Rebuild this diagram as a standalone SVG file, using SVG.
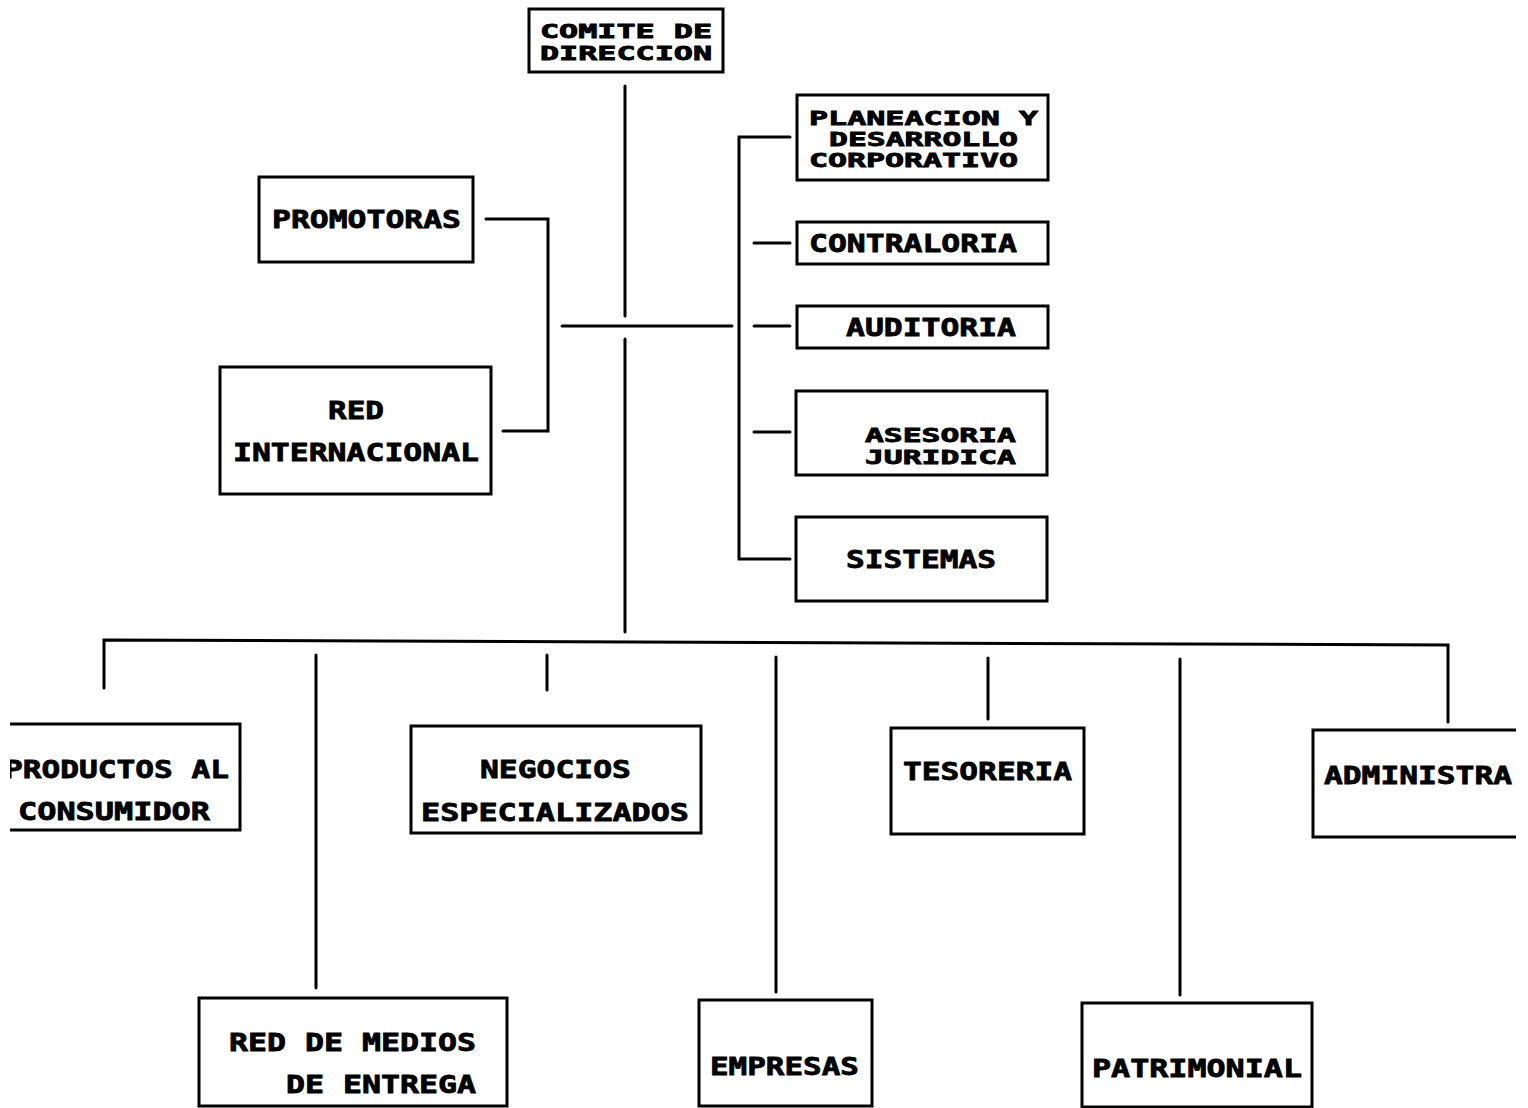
<svg xmlns="http://www.w3.org/2000/svg" width="1528" height="1108" viewBox="0 0 1528 1108">
  <style>
    .box { fill: #fff; stroke: #000; stroke-width: 3; }
    .open { fill: none; stroke: #000; stroke-width: 3; }
    .wire { fill: none; stroke: #000; stroke-width: 3; stroke-linecap: round; stroke-linejoin: miter; }
    .lbl { font-family: "DejaVu Sans Mono", "Liberation Mono", monospace; font-weight: bold; font-size: 25px; fill: #000; stroke: #000; stroke-width: 0.8; }
    .tight { font-size: 19px; }
  </style>
  <defs>
    <clipPath id="page">
      <rect x="10" y="0" width="1506" height="1108"/>
    </clipPath>
  </defs>
  <rect width="1528" height="1108" fill="#fff"/>

  <!-- connectors -->
  <g id="connectors">
    <!-- main trunk -->
    <path class="wire" d="M625 86 V316 M625 339 V632"/>
    <path class="wire" d="M562 326 H732"/>
    <!-- left staff branch -->
    <path class="wire" d="M486 219 H548 V431 H503"/>
    <!-- right staff branch -->
    <path class="wire" d="M790 137 H739 V559 H790"/>
    <path class="wire" d="M754 243 H790"/>
    <path class="wire" d="M754 326 H790"/>
    <path class="wire" d="M754 432 H790"/>
    <!-- line bus -->
    <path class="wire" d="M104 688 V640 L1448 645 V722"/>
    <path class="wire" d="M316 655 V988"/>
    <path class="wire" d="M547 655 V690"/>
    <path class="wire" d="M776 657 V992"/>
    <path class="wire" d="M988 658 V719"/>
    <path class="wire" d="M1180 659 V995"/>
  </g>

  <!-- top -->
  <g id="comite">
    <rect class="box" x="529" y="9" width="194" height="63"/>
    <text class="lbl tight" x="540" y="38" textLength="172" lengthAdjust="spacingAndGlyphs">COMITE DE</text>
    <text class="lbl tight" x="540" y="60" textLength="172" lengthAdjust="spacingAndGlyphs">DIRECCION</text>
  </g>

  <!-- left staff -->
  <g id="promotoras">
    <rect class="box" x="259" y="177" width="214" height="85"/>
    <text class="lbl" x="272" y="228" textLength="189" lengthAdjust="spacingAndGlyphs">PROMOTORAS</text>
  </g>
  <g id="red-internacional">
    <rect class="box" x="220" y="367" width="271" height="127"/>
    <text class="lbl" x="328" y="419" textLength="56" lengthAdjust="spacingAndGlyphs">RED</text>
    <text class="lbl" x="233" y="461" textLength="246" lengthAdjust="spacingAndGlyphs">INTERNACIONAL</text>
  </g>

  <!-- right staff -->
  <g id="planeacion">
    <rect class="box" x="797" y="95" width="251" height="85"/>
    <text class="lbl tight" x="809" y="125" textLength="229" lengthAdjust="spacingAndGlyphs">PLANEACION Y</text>
    <text class="lbl tight" x="829" y="146" textLength="189" lengthAdjust="spacingAndGlyphs">DESARROLLO</text>
    <text class="lbl tight" x="809" y="167" textLength="209" lengthAdjust="spacingAndGlyphs">CORPORATIVO</text>
  </g>
  <g id="contraloria">
    <rect class="box" x="797" y="222" width="251" height="42"/>
    <text class="lbl" x="809" y="252" textLength="208" lengthAdjust="spacingAndGlyphs">CONTRALORIA</text>
  </g>
  <g id="auditoria">
    <rect class="box" x="797" y="306" width="251" height="42"/>
    <text class="lbl" x="846" y="336" textLength="170" lengthAdjust="spacingAndGlyphs">AUDITORIA</text>
  </g>
  <g id="asesoria">
    <rect class="box" x="796" y="391" width="251" height="84"/>
    <text class="lbl tight" x="865" y="442" textLength="151" lengthAdjust="spacingAndGlyphs">ASESORIA</text>
    <text class="lbl tight" x="865" y="464" textLength="151" lengthAdjust="spacingAndGlyphs">JURIDICA</text>
  </g>
  <g id="sistemas">
    <rect class="box" x="796" y="517" width="251" height="84"/>
    <text class="lbl" x="846" y="568" textLength="150" lengthAdjust="spacingAndGlyphs">SISTEMAS</text>
  </g>

  <!-- line units -->
  <g id="productos" clip-path="url(#page)">
    <path class="open" d="M5 724 H240 V830 H5"/>
    <text class="lbl" x="4" y="778" textLength="225" lengthAdjust="spacingAndGlyphs">PRODUCTOS AL</text>
    <text class="lbl" x="18" y="820" textLength="192" lengthAdjust="spacingAndGlyphs">CONSUMIDOR</text>
  </g>
  <g id="negocios">
    <rect class="box" x="411" y="726" width="290" height="107"/>
    <text class="lbl" x="480" y="778" textLength="151" lengthAdjust="spacingAndGlyphs">NEGOCIOS</text>
    <text class="lbl" x="421" y="821" textLength="268" lengthAdjust="spacingAndGlyphs">ESPECIALIZADOS</text>
  </g>
  <g id="tesoreria">
    <rect class="box" x="891" y="728" width="193" height="106"/>
    <text class="lbl" x="903" y="780" textLength="169" lengthAdjust="spacingAndGlyphs">TESORERIA</text>
  </g>
  <g id="administra" clip-path="url(#page)">
    <path class="open" d="M1530 730 H1313 V837 H1530"/>
    <text class="lbl" x="1324" y="784" textLength="188" lengthAdjust="spacingAndGlyphs">ADMINISTRA</text>
  </g>
  <g id="red-medios">
    <rect class="box" x="199" y="998" width="308" height="108"/>
    <text class="lbl" x="229" y="1051" textLength="247" lengthAdjust="spacingAndGlyphs">RED DE MEDIOS</text>
    <text class="lbl" x="286" y="1093" textLength="190" lengthAdjust="spacingAndGlyphs">DE ENTREGA</text>
  </g>
  <g id="empresas">
    <rect class="box" x="699" y="1000" width="173" height="106"/>
    <text class="lbl" x="710" y="1075" textLength="149" lengthAdjust="spacingAndGlyphs">EMPRESAS</text>
  </g>
  <g id="patrimonial">
    <rect class="box" x="1082" y="1003" width="230" height="104"/>
    <text class="lbl" x="1092" y="1077" textLength="210" lengthAdjust="spacingAndGlyphs">PATRIMONIAL</text>
  </g>
</svg>
